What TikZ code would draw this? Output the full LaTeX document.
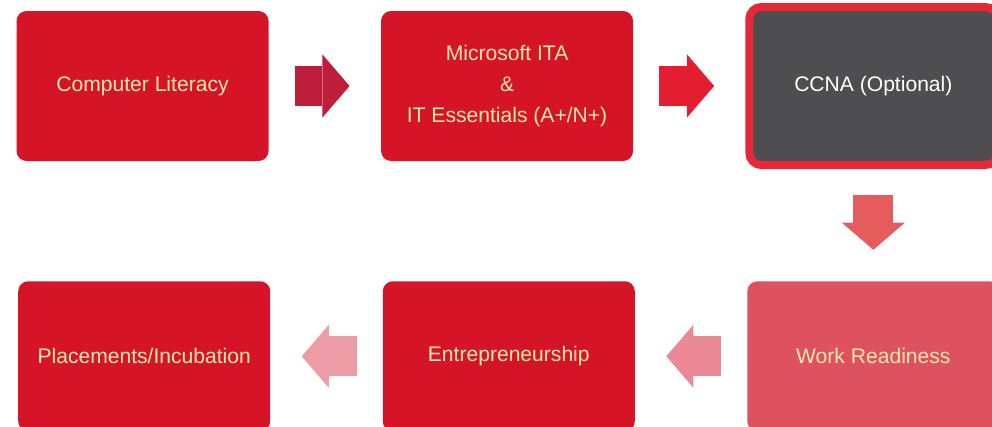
\documentclass[tikz,border=0pt]{standalone}
\usepackage{fontspec}
\setmainfont{Liberation Sans}
\usetikzlibrary{arrows.meta, positioning}

\definecolor{stagered}{RGB}{214,20,40}
\definecolor{labelcream}{RGB}{250,232,172}
\definecolor{ccnagray}{RGB}{78,78,80}
\definecolor{ccnaborder}{RGB}{228,40,56}
\definecolor{workpink}{RGB}{222,82,96}
\definecolor{arrowA}{RGB}{190,30,58}
\definecolor{arrowB}{RGB}{228,30,48}
\definecolor{arrowC}{RGB}{230,92,92}
\definecolor{arrowD}{RGB}{234,138,150}
\definecolor{arrowE}{RGB}{238,156,166}

\begin{document}
\begin{tikzpicture}[node distance=2.8cm,font=\fontsize{15}{22}\selectfont,
  stage/.style={rectangle,rounded corners=0.25cm,fill=stagered,text=labelcream,minimum width=6.3cm,minimum height=3.75cm,align=center,inner sep=0pt},
  flow/.style={line width=1cm,-{Triangle[length=0.68cm 0,width=1.58cm 0,line width=0pt 0]},shorten <=0.65cm,shorten >=0.78cm}]
  \path[use as bounding box,fill=white] (0,0) rectangle (24.8,-10.65);
  \node[stage] (lit) at (3.5625,-2.15) {Computer Literacy};
  \node[stage] (ita) [right=of lit] {Microsoft ITA\\\&\\IT Essentials (A+/N+)};
  \node[stage,fill=ccnagray,draw=ccnaborder,line width=0.2cm,rounded corners=0.3cm,minimum width=6.2cm,minimum height=3.95cm,text=white] (ccna) [right=of ita] {CCNA (Optional)};
  \node[stage,fill=workpink] (work) [below=of ccna] {Work Readiness};
  \node[stage] (ent) [left=of work] {Entrepreneurship};
  \node[stage] (place) [left=of ent] {Placements/Incubation};
  \foreach \s/\t/\c in {lit/ita/arrowA, ita/ccna/arrowB, ccna/work/arrowC, work/ent/arrowD, ent/place/arrowE} {\draw[flow,color=\c] (\s) -- (\t);}
\end{tikzpicture}
\end{document}
